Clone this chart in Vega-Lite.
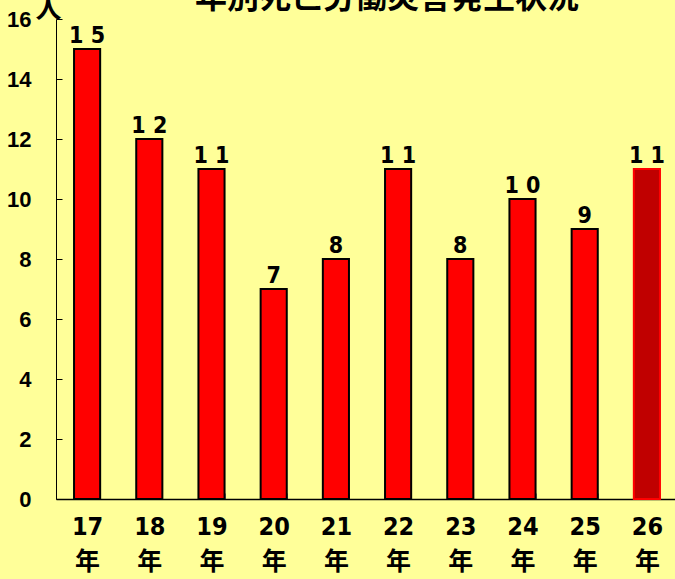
{
  "$schema": "https://vega.github.io/schema/vega-lite/v6.json",
  "autosize": "none",
  "width": 622,
  "height": 480,
  "padding": {"left": 56, "top": 19, "right": 0, "bottom": 80},
  "background": "#FFFF99",
  "view": {"stroke": null},
  "title": {
    "text": "年別死亡労働災害発生状況",
    "anchor": "middle",
    "frame": "group",
    "dx": 20,
    "dy": 44,
    "offset": 0,
    "baseline": "alphabetic",
    "fontSize": 32,
    "fontWeight": "bold",
    "font": "Noto Sans CJK JP",
    "color": "#000000"
  },
  "data": {
    "values": [
      {"year": "17", "value": 15, "label": "1 5", "latest": "no"},
      {"year": "18", "value": 12, "label": "1 2", "latest": "no"},
      {"year": "19", "value": 11, "label": "1 1", "latest": "no"},
      {"year": "20", "value": 7, "label": "7", "latest": "no"},
      {"year": "21", "value": 8, "label": "8", "latest": "no"},
      {"year": "22", "value": 11, "label": "1 1", "latest": "no"},
      {"year": "23", "value": 8, "label": "8", "latest": "no"},
      {"year": "24", "value": 10, "label": "1 0", "latest": "no"},
      {"year": "25", "value": 9, "label": "9", "latest": "no"},
      {"year": "26", "value": 11, "label": "1 1", "latest": "yes"}
    ]
  },
  "encoding": {
    "x": {
      "field": "year",
      "type": "nominal",
      "sort": null,
      "scale": {"paddingInner": 0.58, "paddingOuter": 0.29},
      "axis": {
        "title": null,
        "labelAngle": 0,
        "labelExpr": "datum.label == null || datum.label == '' ? '' : [datum.label, '年']",
        "labelFont": "DejaVu Sans Condensed, Liberation Sans, Noto Sans CJK JP",
        "labelFontSize": 25,
        "labelFontWeight": "bold",
        "labelColor": "#000000",
        "labelLineHeight": 35,
        "labelPadding": 21,
        "tickSize": -6,
        "tickColor": "#808080",
        "tickBand": "extent",
        "domainColor": "#000000",
        "domainWidth": 1.5
      }
    },
    "y": {
      "field": "value",
      "type": "quantitative",
      "scale": {"domain": [0, 16]},
      "axis": {
        "values": [0, 2, 4, 6, 8, 10, 12, 14, 16],
        "grid": false,
        "title": "人",
        "titleAngle": 0,
        "titleFont": "Noto Sans CJK JP",
        "titleFontSize": 26,
        "titleFontWeight": "bold",
        "titleColor": "#000000",
        "titleX": -8,
        "titleY": -2,
        "titleAlign": "center",
        "titleBaseline": "alphabetic",
        "labelFont": "Liberation Sans",
        "labelFontSize": 22,
        "labelFontWeight": "bold",
        "labelColor": "#000000",
        "labelPadding": 31,
        "tickSize": -6,
        "tickColor": "#000000",
        "domainColor": "#000000",
        "domainWidth": 1
      }
    }
  },
  "layer": [
    {
      "mark": {"type": "bar", "strokeWidth": 2},
      "encoding": {
        "color": {
          "field": "latest",
          "type": "nominal",
          "scale": {"domain": ["no", "yes"], "range": ["#FF0000", "#C00000"]},
          "legend": null
        },
        "stroke": {
          "field": "latest",
          "type": "nominal",
          "scale": {"domain": ["no", "yes"], "range": ["#000000", "#FF0000"]},
          "legend": null
        }
      }
    },
    {
      "mark": {
        "type": "text",
        "baseline": "alphabetic",
        "dy": -6,
        "font": "DejaVu Sans Condensed, Liberation Sans",
        "fontSize": 23,
        "fontWeight": "bold",
        "color": "#000000"
      },
      "encoding": {"text": {"field": "label"}}
    }
  ]
}
